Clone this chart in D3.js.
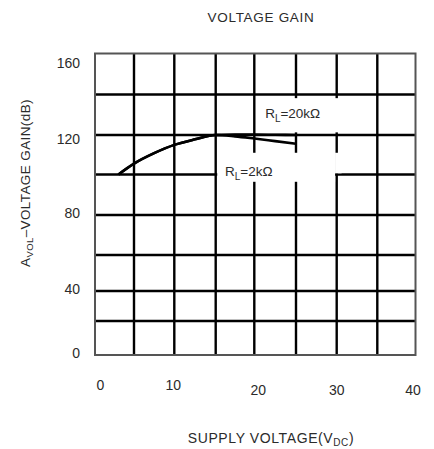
<!DOCTYPE html>
<html><head><meta charset="utf-8">
<script src="https://cdn.jsdelivr.net/npm/d3@7"></script>
<style>
body{margin:0;background:#fff}
svg{display:block}
text{font-family:"Liberation Sans",Arial,sans-serif;fill:#2b2b2b}
</style>
</head><body>
<svg id="c" width="434" height="449"></svg>
<script>
// ---- data ----
const xTicks = [0, 10, 20, 30, 40];
const yTicks = [0, 40, 80, 120, 160];
const xGrid = [0, 5, 10, 15, 20, 25, 30, 35, 40];
const yGrid = [0, 20, 40, 60, 80, 100, 120, 140, 160];
const supply20k = [3, 5, 7.5, 10, 12.5, 15, 17.5, 20, 22.5, 25];
const gain20k   = [100, 105.5, 110.8, 115, 117.8, 120, 120.2, 120.2, 120.1, 120];
const supply2k  = [3, 5, 7.5, 10, 12.5, 15, 17.5, 20, 22.5, 25];
const gain2k    = [100, 105.5, 110.8, 115, 117.8, 120, 119.3, 118.2, 116.9, 115.6];

// ---- layout ----
const svg = d3.select("#c");
// piecewise-linear scales calibrated to the (slightly uneven) printed grid
const x = d3.scaleLinear().domain(xGrid).range([95, 134, 174.3, 215.7, 254.3, 296, 336.7, 377.3, 415.5]);
const y = d3.scaleLinear().domain(yGrid).range([355, 321, 291, 255, 215, 174.5, 135, 94.5, 53.5]);

// grid
const g = svg.append("g");
g.selectAll("line.v").data(xGrid.slice(1, -1)).join("line")
  .attr("x1", d => x(d)).attr("x2", d => x(d))
  .attr("y1", y(160)).attr("y2", y(0))
  .attr("stroke", "#000").attr("stroke-width", 2.4);
g.selectAll("line.h").data(yGrid.slice(1, -1)).join("line")
  .attr("y1", d => y(d)).attr("y2", d => y(d))
  .attr("x1", x(0)).attr("x2", x(40))
  .attr("stroke", "#000").attr("stroke-width", 2.4);
g.append("rect")
  .attr("x", x(0)).attr("y", y(160))
  .attr("width", x(40) - x(0)).attr("height", y(0) - y(160))
  .attr("fill", "none").attr("stroke", "#555").attr("stroke-width", 2);

// white label boxes that interrupt the grid
const box = (v0, v1, d0, d1) => svg.append("rect")
  .attr("x", x(v0)).attr("y", y(d1))
  .attr("width", x(v1) - x(v0)).attr("height", y(d0) - y(d1))
  .attr("fill", "#fff");
box(20.4, 30.6, 121.3, 138.2);
box(15.2, 29.8, 96.4, 111);
box(29.8, 30.6, 100.6, 111);

// curves
const line = d3.line().x(d => x(d[0])).y(d => y(d[1])).curve(d3.curveMonotoneX);
svg.append("path").datum(d3.zip(supply20k, gain20k))
  .attr("d", line).attr("fill", "none").attr("stroke", "#000").attr("stroke-width", 2.6);
svg.append("path").datum(d3.zip(supply2k, gain2k))
  .attr("d", line).attr("fill", "none").attr("stroke", "#000").attr("stroke-width", 2.6);

// curve labels
function rl(tx, ty, rest) {
  const t = svg.append("text").attr("x", tx).attr("y", ty).attr("font-size", 13.5);
  t.append("tspan").text("R");
  t.append("tspan").attr("font-size", 10).attr("dy", 4).text("L");
  t.append("tspan").attr("dy", -4).text(rest);
}
rl(x(21.3), y(128.2), "=20kΩ");
rl(x(16.2), y(99.2), "=2kΩ");

// tick labels
const xNudge = {0: [5.5, 0], 10: [-1, 0], 20: [4, 5.5], 30: [0, 5.5], 40: [-2.5, 5.5]};
svg.selectAll("text.xt").data(xTicks).join("text")
  .attr("x", d => x(d) + xNudge[d][0]).attr("y", d => 389.5 + xNudge[d][1])
  .attr("text-anchor", "middle").attr("font-size", 14).text(d => d);
const yNudge = {0: 3.3, 40: 3.3, 80: 3.3, 120: 9.3, 160: 14.2};
svg.selectAll("text.yt").data(yTicks).join("text")
  .attr("x", 80).attr("y", d => y(d) + yNudge[d])
  .attr("text-anchor", "end").attr("font-size", 14).text(d => d);

// titles
svg.append("text").attr("x", 261).attr("y", 22).attr("text-anchor", "middle")
  .attr("font-size", 13.5).attr("letter-spacing", 0.7).text("VOLTAGE GAIN");

const xt = svg.append("text").attr("x", 271).attr("y", 443).attr("text-anchor", "middle")
  .attr("font-size", 14).attr("letter-spacing", 0.6);
xt.append("tspan").text("SUPPLY VOLTAGE(V");
xt.append("tspan").attr("font-size", 10).attr("dy", 3).text("DC");
xt.append("tspan").attr("dy", -3).text(")");

const yt = svg.append("text").attr("transform", "translate(30,183) rotate(-90)")
  .attr("text-anchor", "middle").attr("font-size", 13.5).attr("letter-spacing", 0.4);
yt.append("tspan").text("A");
yt.append("tspan").attr("font-size", 9.5).attr("dy", 3).text("VOL");
yt.append("tspan").attr("dy", -3).text("–VOLTAGE GAIN(dB)");
</script>
</body></html>
